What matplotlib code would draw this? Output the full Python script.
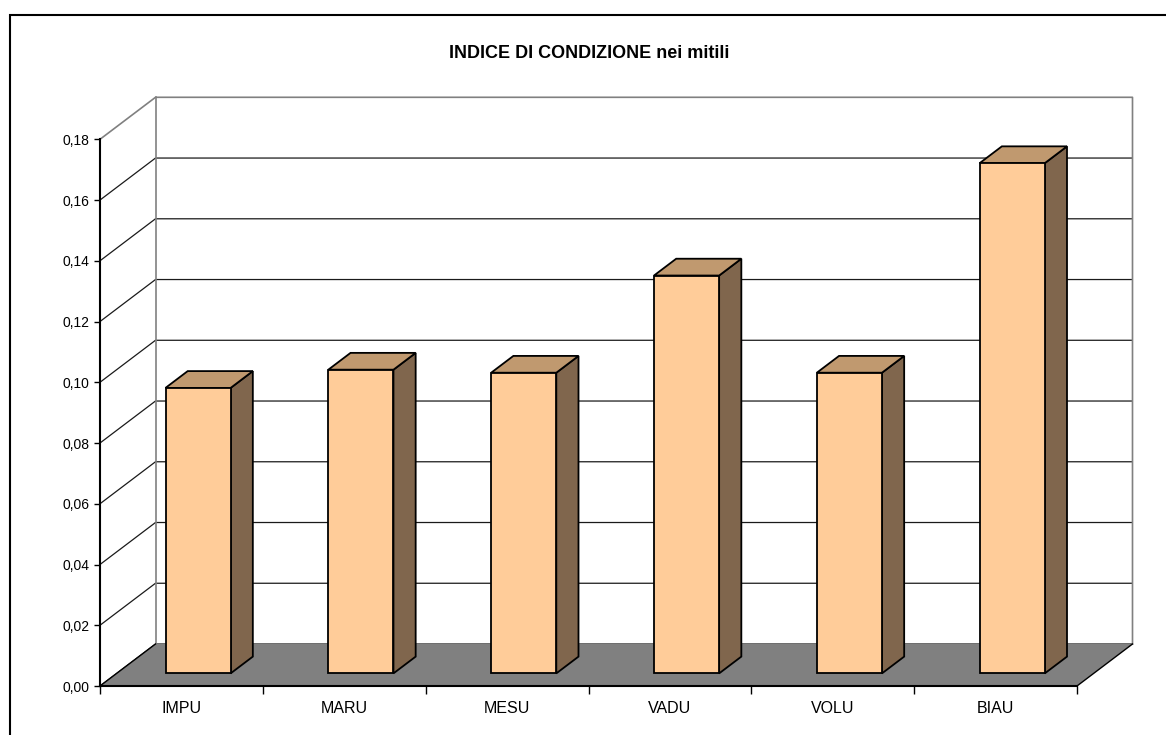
import matplotlib
matplotlib.use("Agg")
import matplotlib.pyplot as plt
from matplotlib.patches import Polygon, Rectangle
from matplotlib.ticker import FixedLocator, FuncFormatter

categories = ["IMPU", "MARU", "MESU", "VADU", "VOLU", "BIAU"]
values = [0.094, 0.100, 0.099, 0.131, 0.099, 0.168]
yticks = [0.00, 0.02, 0.04, 0.06, 0.08, 0.10, 0.12, 0.14, 0.16, 0.18]
title = "INDICE DI CONDIZIONE nei mitili"

plt.rcParams['font.family'] = ['Liberation Sans', 'DejaVu Sans']

W, H = 1166, 735
fig = plt.figure(figsize=(W / 100, H / 100), dpi=100)
fig.patch.set_facecolor('white')

# front plane axes (pixels: x 100..1077, y 686..139.3)
ax = fig.add_axes([100 / W, (H - 686) / H, 977 / W, 546.7 / H])
ax.set_facecolor('none')
n = len(categories)
ymax = yticks[-1]
ax.set_xlim(0, n)
ax.set_ylim(0, ymax)

# depth offsets (full depth) in data units
DX = 55.5 / 977 * n
DY = 42.0 / 546.7 * ymax

def P(x, y, d):
    return (x + d * DX, y + d * DY)

# back wall
wall = Polygon([P(0, 0, 1), P(n, 0, 1), P(n, ymax, 1), P(0, ymax, 1)], closed=True,
               facecolor='white', edgecolor='none', zorder=0.5, clip_on=False)
ax.add_patch(wall)
# gridlines on back wall and left wall
for t in yticks[:-1]:
    xs, ys = zip(P(0, t, 0), P(0, t, 1), P(n, t, 1))
    ax.plot(xs, ys, color='#1a1a1a', lw=0.9, zorder=0.6, clip_on=False, solid_capstyle='butt')
# top edges gray
xs, ys = zip(P(0, ymax, 0), P(0, ymax, 1), P(n, ymax, 1), P(n, 0, 1))
ax.plot(xs, ys, color='#808080', lw=1.2, zorder=0.6, clip_on=False)
xs, ys = zip(P(0, 0, 1), P(0, ymax, 1))
ax.plot(xs, ys, color='#808080', lw=1.2, zorder=0.6, clip_on=False)

# floor
floor = Polygon([P(0, 0, 0), P(n, 0, 0), P(n, 0, 1), P(0, 0, 1)], closed=True,
                facecolor='#808080', edgecolor='none', zorder=0.7, clip_on=False)
ax.add_patch(floor)
for x0 in (0, n):
    xs, ys = zip(P(x0, 0, 0), P(x0, 0, 1))
    ax.plot(xs, ys, color='black', lw=1.0, zorder=0.75, clip_on=False)

# bars
bw = 0.4
d0, d1 = 0.30, 0.70
front_c, side_c, top_c = '#FFCC99', '#80664D', '#C0996F'
for i, v in enumerate(values):
    xl = i + 0.5 - bw / 2
    xr = i + 0.5 + bw / 2
    side = Polygon([P(xr, 0, d0), P(xr, 0, d1), P(xr, v, d1), P(xr, v, d0)], closed=True,
                   facecolor=side_c, edgecolor='black', lw=1.3, joinstyle='miter',
                   zorder=1, clip_on=False)
    top = Polygon([P(xl, v, d0), P(xr, v, d0), P(xr, v, d1), P(xl, v, d1)], closed=True,
                  facecolor=top_c, edgecolor='black', lw=1.3, joinstyle='miter',
                  zorder=1, clip_on=False)
    front = Polygon([P(xl, 0, d0), P(xr, 0, d0), P(xr, v, d0), P(xl, v, d0)], closed=True,
                    facecolor=front_c, edgecolor='black', lw=1.3, joinstyle='miter',
                    zorder=1.1, clip_on=False)
    ax.add_patch(side)
    ax.add_patch(top)
    ax.add_patch(front)

# axes styling
for s in ('top', 'right'):
    ax.spines[s].set_visible(False)
for s in ('left', 'bottom'):
    ax.spines[s].set_color('black')
    ax.spines[s].set_linewidth(1.5)
    ax.spines[s].set_zorder(2)

ax.yaxis.set_major_locator(FixedLocator(yticks))
ax.yaxis.set_major_formatter(FuncFormatter(lambda v, p: f"{v:.2f}".replace('.', ',')))
ax.tick_params(axis='y', direction='out', length=4.3, width=1.0, pad=3.5,
               labelsize=10, colors='black')

ax.xaxis.set_major_locator(FixedLocator(list(range(n + 1))))
ax.xaxis.set_major_formatter(FuncFormatter(lambda v, p: ''))
ax.xaxis.set_minor_locator(FixedLocator([i + 0.5 for i in range(n)]))
ax.set_xticklabels(categories, minor=True)
ax.tick_params(axis='x', which='major', direction='out', length=5.8, width=1.0, colors='black')
ax.tick_params(axis='x', which='minor', length=0, pad=10.5, labelsize=11.5, colors='black')

fig.text(589 / W, 1 - 53 / H, title, ha='center', va='center', fontsize=13,
         fontweight='bold')

# outer frame (top and left visible)
fig.add_artist(Rectangle((10 / W, -0.05), 1.2, 1 - 15 / H + 0.05, transform=fig.transFigure,
                         facecolor='none', edgecolor='black', lw=1.5, zorder=10))

fig.savefig('out.png', dpi=100)
